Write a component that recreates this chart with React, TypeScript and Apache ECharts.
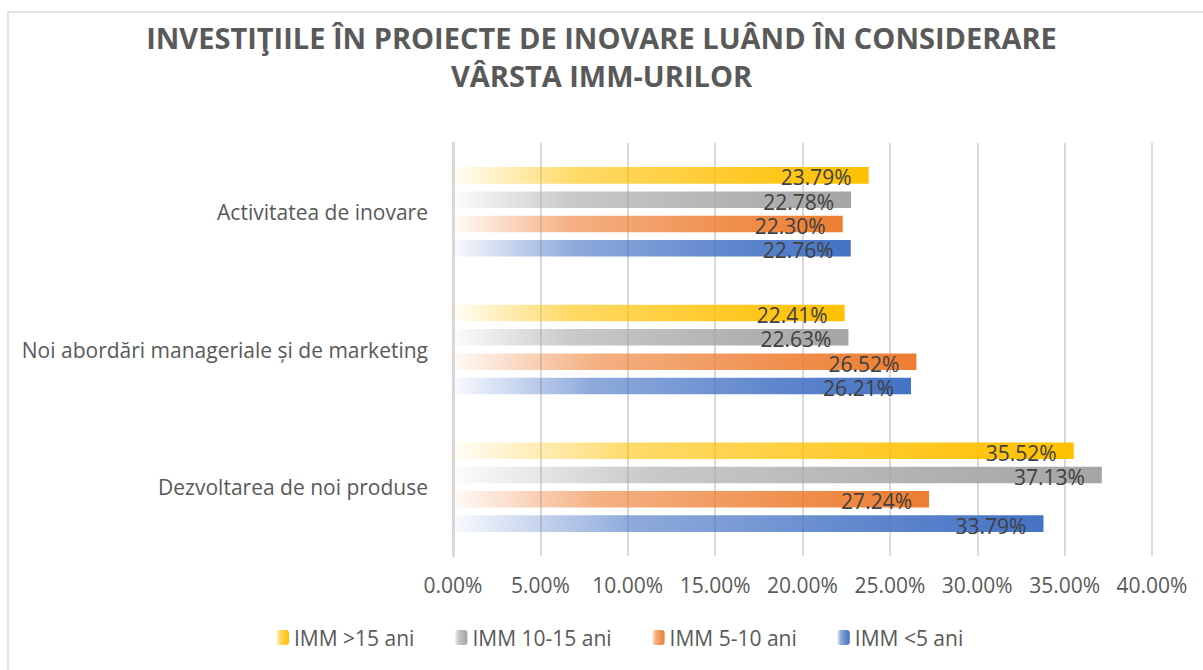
import React, { useEffect, useRef } from "react";
import * as echarts from "echarts";

const categories = [
  "Dezvoltarea de noi produse",
  "Noi abordări manageriale și de marketing",
  "Activitatea de inovare",
];
const titleLines = [
  "INVESTIŢIILE ÎN PROIECTE DE INOVARE LUÂND ÎN CONSIDERARE",
  "VÂRSTA IMM-URILOR",
];
const seriesNames = ["IMM >15 ani", "IMM 10-15 ani", "IMM 5-10 ani", "IMM <5 ani"];
const over15 = [35.52, 22.41, 23.79];
const from10to15 = [37.13, 22.63, 22.78];
const from5to10 = [27.24, 26.52, 22.3];
const under5 = [33.79, 26.21, 22.76];
const seriesColors = ["#FFC000", "#A5A5A5", "#ED7D31", "#4472C4"];
const xTicks = { min: 0, max: 40, interval: 5 };

function hexToRgba(hex: string, a: number) {
  const n = parseInt(hex.slice(1), 16);
  return `rgba(${(n >> 16) & 255},${(n >> 8) & 255},${n & 255},${a})`;
}

function grad(hex: string) {
  return new echarts.graphic.LinearGradient(0, 0, 1, 0, [
    { offset: 0, color: hexToRgba(hex, 0.03) },
    { offset: 0.3, color: hexToRgba(hex, 0.6) },
    { offset: 0.7, color: hexToRgba(hex, 0.85) },
    { offset: 1, color: hexToRgba(hex, 1) },
  ]);
}

export default function App() {
  const ref = useRef<HTMLDivElement>(null);
  useEffect(() => {
    document.body.style.margin = "0";
    const chart = echarts.init(ref.current!, undefined, { renderer: "svg" });
    const values = [over15, from10to15, from5to10, under5];
    const font = "'Open Sans', 'Noto Sans', sans-serif";
    const titleStyle = {
      fontFamily: font,
      fontSize: 29,
      fontWeight: "bold",
      color: "#595959",
      lineHeight: 38,
    };
    chart.setOption({
      animation: false,
      backgroundColor: "#ffffff",
      textStyle: { fontFamily: font },
      title: titleLines.map((t, i) => ({
        text: t,
        left: "center",
        top: 18 + i * 38,
        padding: 0,
        textStyle: titleStyle,
      })),
      graphic: [
        {
          type: "rect",
          shape: { x: 8, y: 12, width: 1210, height: 680 },
          style: { fill: "none", stroke: "#d9d9d9", lineWidth: 1.5 },
          silent: true,
        },
      ],
      legend: {
        data: seriesNames,
        top: 627,
        left: 276,
        padding: 0,
        itemWidth: 13,
        itemHeight: 15,
        itemGap: 40,
        textStyle: { fontSize: 21, color: "#595959", fontFamily: font },
      },
      grid: { left: 453, right: 51, top: 143, bottom: 114, containLabel: false },
      xAxis: {
        type: "value",
        min: xTicks.min,
        max: xTicks.max,
        interval: xTicks.interval,
        axisLine: { show: false },
        axisTick: { show: false },
        splitLine: { show: true, lineStyle: { color: "#d9d9d9", width: 2 } },
        axisLabel: {
          formatter: (v: number) => `${v.toFixed(2)}%`,
          fontSize: 21,
          color: "#595959",
          margin: 18,
          fontFamily: font,
        },
      },
      yAxis: {
        type: "category",
        data: categories,
        axisLine: { show: true, lineStyle: { color: "#d9d9d9", width: 3 } },
        axisTick: { show: false },
        axisLabel: { fontSize: 21, color: "#595959", margin: 25, fontFamily: font },
      },
      series: seriesNames.map((name, i) => ({
        name,
        type: "bar",
        data: values[i],
        barGap: "47%",
        barCategoryGap: "35%",
        itemStyle: { color: grad(seriesColors[i]) },
        label: {
          show: true,
          position: "insideRight",
          distance: 17,
          offset: [0, 2],
          formatter: (p: any) => `${Number(p.value).toFixed(2)}%`,
          fontSize: 21,
          color: "#404040",
          fontFamily: font,
        },
      })),
    });
    return () => chart.dispose();
  }, []);
  return <div ref={ref} style={{ width: 1203, height: 670 }} />;
}
